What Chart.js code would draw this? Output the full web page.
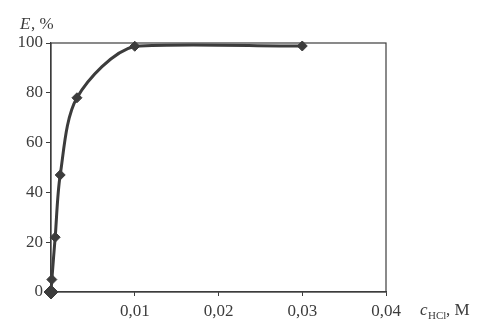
<!DOCTYPE html>
<html>
<head>
<meta charset="utf-8">
<script src="https://cdn.jsdelivr.net/npm/chart.js@4/dist/chart.umd.min.js"></script>
<style>
  html, body { margin: 0; padding: 0; background: #fff; }
  #wrap { width: 493px; height: 321px; }
</style>
</head>
<body>
<div id="wrap"><canvas id="chart" width="493" height="321"></canvas></div>
<script>
// HCl concentration, M
const concHCl = [0, 0.0001, 0.0005, 0.0011, 0.0031, 0.01, 0.03];
// extraction degree E, %
const extraction = [0, 5, 22, 47, 78, 98.7, 98.8];
const xTicks = [0, 0.01, 0.02, 0.03, 0.04];
const yTicks = [0, 20, 40, 60, 80, 100];

const ink = '#3c3c3c';
const serif = "'Liberation Serif', 'DejaVu Serif', serif";

// frame + axis titles
const decor = {
    id: 'decor',
    afterDraw(chart) {
        const ctx = chart.ctx;
        const a = chart.chartArea;
        ctx.save();
        ctx.strokeStyle = ink;
        ctx.lineWidth = 1.2;
        ctx.strokeRect(a.left, a.top, a.right - a.left, a.bottom - a.top);

        ctx.fillStyle = ink;
        ctx.textBaseline = 'alphabetic';
        ctx.textAlign = 'left';
        ctx.font = "italic 17px " + serif;
        ctx.fillText('E', 20, 29);
        ctx.font = "17px " + serif;
        ctx.fillText(', %', 31, 29);

        ctx.font = "italic 17px " + serif;
        ctx.fillText('c', 420, 315);
        ctx.font = "11px " + serif;
        ctx.fillText('HCl', 428, 319);
        ctx.font = "17px " + serif;
        ctx.fillText(', M', 446, 315);
        ctx.restore();
    }
};

const ctx = document.getElementById('chart').getContext('2d');
const chart = new Chart(ctx, {
    type: 'scatter',
    data: {
        datasets: [{
            data: concHCl.map((c, i) => ({ x: c, y: extraction[i] })),
            showLine: true,
            clip: 10,
            borderColor: ink,
            borderWidth: 3,
            tension: 0.3,
            pointStyle: 'rectRot',
            pointRadius: [7, 5, 5, 5, 5, 5, 5],
            pointBackgroundColor: ink,
            pointBorderColor: ink,
            pointBorderWidth: 1
        }]
    },
    options: {
        responsive: false,
        animation: false,
        layout: { padding: { top: 43, right: 107, left: 0, bottom: 0 } },
        plugins: { legend: { display: false }, tooltip: { enabled: false } },
        scales: {
            x: {
                type: 'linear',
                min: 0, max: 0.04,
                afterBuildTicks: s => { s.ticks = xTicks.map(v => ({ value: v })); },
                afterFit: s => { s.height = 29; },
                grid: { drawOnChartArea: false, color: ink, tickLength: 4 },
                border: { color: ink, width: 1.2 },
                ticks: {
                    color: ink,
                    padding: 5,
                    font: { family: serif, size: 17 },
                    callback: v => v === 0 ? '' : v.toFixed(2).replace('.', ',')
                }
            },
            y: {
                min: 0, max: 100,
                afterBuildTicks: s => { s.ticks = yTicks.map(v => ({ value: v })); },
                afterFit: s => { s.width = 51; },
                grid: { drawOnChartArea: false, color: ink, tickLength: 5 },
                border: { color: ink, width: 1.2 },
                ticks: {
                    color: ink,
                    padding: 3,
                    font: { family: serif, size: 17 }
                }
            }
        }
    },
    plugins: [decor]
});
</script>
</body>
</html>
